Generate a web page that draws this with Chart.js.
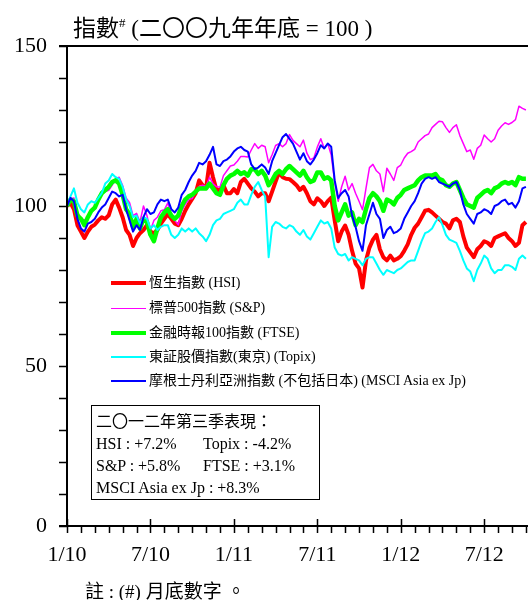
<!DOCTYPE html>
<html><head><meta charset="utf-8">
<script src="https://cdn.jsdelivr.net/npm/chart.js@4.4.0/dist/chart.umd.min.js"></script>
<style>
html,body{margin:0;padding:0;background:#fff;overflow:hidden}
#wrap{position:relative;width:528px;height:600px;font-family:"Liberation Serif","Noto Sans CJK TC",serif;color:#000}
canvas{position:absolute;left:0;top:0}
.t{position:absolute;white-space:nowrap;line-height:1}
.lg{position:absolute;white-space:nowrap;font-size:14px;line-height:16px}
.sw{position:absolute;left:111px;width:35px}
#box{position:absolute;left:91px;top:405px;width:229px;height:95px;border:1px solid #000;box-sizing:border-box}
#box div{position:absolute;white-space:nowrap;font-size:16px;line-height:22px}
</style></head><body>
<div id="wrap">
<canvas id="c" width="528" height="600"></canvas>
<div class="t" style="left:73px;top:17px;font-size:23px">指數<span style="font-size:13px;position:relative;top:-9px">#</span> (二〇〇九年年底 = 100 )</div>
<div id="legend"></div>
<div id="box">
<div style="left:4px;top:5px">二〇一二年第三季表現：</div>
<div style="left:4px;top:27px">HSI : +7.2%</div>
<div style="left:111px;top:27px">Topix : -4.2%</div>
<div style="left:4px;top:49px">S&amp;P : +5.8%</div>
<div style="left:111px;top:49px">FTSE : +3.1%</div>
<div style="left:4px;top:71px">MSCI Asia ex Jp : +8.3%</div>
</div>
<div class="t" style="left:85px;top:582px;font-size:19px">註 : (#) 月底數字 。</div>
</div>
<script>
// x position: months since end-2009 (0 = 1/10), weekly steps
const weeks = [];
for (let i = 0; i <= 132; i++) weeks.push(i / 4);
const xTickLabels = ['1/10', '7/10', '1/11', '7/11', '1/12', '7/12'];
const yTickLabels = [0, 50, 100, 150];
const seriesNames = ['恆生指數 (HSI)', '標普500指數 (S&P)', '金融時報100指數 (FTSE)', '東証股價指數(東京) (Topix)', '摩根士丹利亞洲指數 (不包括日本) (MSCI Asia ex Jp)'];

const hsi = [100,
 101,99,94,92, 90,92,93.5,94.2, 95.5,96.5,96,97.1, 100.5,102,99.5,96.5, 92.5,91,87.5,90, 91.5,92.5,94,92,
 91.5,92.5,94.5,96, 97.5,96,94.5,94, 96,98.5,100.5,102.2, 104,108,106.5,105.6, 113.5,109,105,105, 106.5,104,104,105.3,
 104,107.5,108.5,107, 105.5,104.5,103,104, 104,101.5,104.5,107.6, 110.5,109,108.5,108.4, 107.5,106.5,105,106, 104,101.5,100.5,102.4,
 101.5,100,101.5,102.6, 95.5,89,92,93.9, 91,86,82,80.5, 74.5,83,87,89.5, 91,86.5,84,83, 84.5,83,83.5,84.3,
 86,88,91,93.2, 94.5,96.5,98.5,98.8, 98,97,96,95, 94.5,93,95.5,96, 95,90.5,87,85.5, 84,86.5,87.5,89,
 88.5,87.5,90,90.5, 91,91.5,90,89, 87.5,88.5,94,95];
const sp500 = [100,
 102.3,102.5,98,96.3, 95.5,96.5,99,99, 101.5,103.5,104.5,104.9, 106.5,108.5,109,106.4, 102.5,101,97,97.7, 95,100,97,92.4,
 95.5,96.5,98.5,98.8, 101,97,95.5,94.1, 98.5,100.5,102,102.3, 104.5,106,106.5,106.1, 109,107,106,105.9, 109.5,111,112.5,112.8,
 114,115.5,115.5,115.3, 117.5,119.5,118,119, 118.5,113.5,116,118.9, 119.5,118.5,119.5,122.3, 120.5,119.5,118.5,120.6, 116.5,114.5,115,118.4,
 121,118,119.5,115.9, 107.5,101.5,106,109.3, 105,107,104,101.5, 98.8,105.5,112,113, 111,110,104.5,111.8, 110,108,112,112.8,
 115,116.5,117,117.7, 120,121,122,122.5, 124.5,125.5,126.5,126.3, 124.5,123,124.5,125.4, 122,119.5,117,117.5, 114.6,118,119,122.2,
 121,120,121,123.7, 125,126,125.5,126.1, 127,131.2,130.5,130];
const ftse = [100,
 102,101.5,97,96, 94,96.5,98.5,99.5, 102,104,105,106, 107.5,108,107,103.5, 99,97.5,93.5,96, 93,96,95,91,
 89,93,96.5,98, 99,97,96,97, 100,102,103,103.5, 104.5,105.5,105.5,105.5, 107,105.5,104,103.5, 106.5,108.5,109.5,110,
 111,110,110.5,109.5, 111.5,111.5,110,111, 109.5,106.5,108,110, 111,110,111.5,112.5, 111.5,110.5,109.5,111, 109,107.5,108,110.5,
 110.5,108.5,109,108, 100,95.5,98,100.5, 97,98,94,96, 95,99,102.5,104, 103,101.5,98.5,102, 101.5,100.5,102.5,103.5,
 105,105.5,106,106.5, 108,109,109.5,109.5, 109.5,110,108.5,108, 106.5,106,107,107.5, 105,102.5,100.5,100, 99.5,102.5,103.5,104.5,
 105,104,105.5,106, 107,107.5,107,107.5, 106.5,109,108.5,108.5];
const topix = [100,
 103,105.5,101,99, 98,100.5,101.5,101, 102.5,104,107,108, 110,109,108.5,106, 102,100,96.5,97, 94.5,96.5,96,93,
 94,92.5,93.5,94, 94,91,90,91, 93,92,93,92, 93,91.5,90.5,89, 91,94,95.5,96, 97.5,98,98.5,99,
 101,102,100.5,100.5, 103.5,106,107.5,105, 103,84,93.5,95, 94.5,93.5,93,94, 93.5,92,91,92.5, 90.5,89.5,91.5,93.5,
 95.5,94.5,95,93, 87,85,84.5,85, 83,84,83.5,83, 81.5,83.5,84,84, 82,80,78.5,80, 79.5,79,80,80.5,
 81.5,82.5,83,83, 86,89,91.5,92, 93,95,96.5,94, 91,89.5,89,88.5, 86,83,80.5,79.5, 76.5,80,82,84.5,
 83.5,80.5,79,80, 80,81.5,81.5,81, 80,83.5,84.5,83.5];
const msciAxj = [100,
 102.5,101.5,96,93, 92,94.5,95,96, 98,99.5,100.5,102.5, 104.5,104,103,103.5, 99,95.5,92,94, 92.5,96.5,99,97.5,
 98,100.5,102,101.5, 102,99,98,99.5, 103.5,105,107.5,109.5, 111,113.5,113,114, 116,118.5,113,112.5, 114,114.5,115.5,117,
 118,118.5,117.5,117, 113,111.5,112,113, 112,110,114,116.5, 119,121.5,122.5,121, 119.5,117,114.5,116.5, 114,113,114.5,116.5,
 119,118,119.5,118.5, 108,102.5,104,105, 103,97,93.5,89, 86,94,97.5,101, 97.5,96,90,92.5, 93.5,91.5,92,93,
 96,98,100,101.5, 104,107,108.5,109, 108.5,109,107.5,107, 106.5,106,107,107.5, 105,100.5,97.5,96, 94.5,97.5,98,99,
 98.5,97.5,100,100.5, 101.5,102,100.5,101, 99.5,101.5,105.5,106];

const colors = ['#ff0000', '#ff00ff', '#00ff00', '#00ffff', '#0000ff'];
const widths = [4, 1.5, 4.5, 2, 2];
const swatchHeights = [4, 1, 4, 2, 2];
const allSeries = [hsi, sp500, ftse, topix, msciAxj];

// legend
const legendCenters = [283, 308, 333, 357, 381];
const lg = document.getElementById('legend');
seriesNames.forEach((n, i) => {
  const sw = document.createElement('div');
  sw.className = 'sw';
  sw.style.top = Math.round(legendCenters[i] - swatchHeights[i] / 2) + 'px';
  sw.style.height = swatchHeights[i] + 'px';
  sw.style.background = colors[i];
  lg.appendChild(sw);
  const tx = document.createElement('div');
  tx.className = 'lg';
  tx.style.left = '149px';
  tx.style.top = (legendCenters[i] - 8) + 'px';
  tx.textContent = n;
  lg.appendChild(tx);
});

const axisPlugin = {
  id: 'axes',
  afterDraw(chart) {
    const {ctx, scales: {x, y}} = chart;
    const x0 = x.getPixelForValue(0), y0 = y.getPixelForValue(0), yTop = y.getPixelForValue(150);
    ctx.save();
    ctx.strokeStyle = '#000';
    ctx.lineWidth = 2;
    ctx.beginPath();
    ctx.moveTo(x0, yTop - 1); ctx.lineTo(x0, y0 + 1);
    ctx.moveTo(59, y0); ctx.lineTo(chart.width, y0);
    ctx.moveTo(59, yTop); ctx.lineTo(chart.width, yTop);
    ctx.stroke();
    ctx.lineWidth = 1.5;
    ctx.beginPath();
    for (let v = 0; v <= 150; v += 10) {
      const py = Math.round(y.getPixelForValue(v)) + 0.5;
      ctx.moveTo(59, py); ctx.lineTo(x0, py);
    }
    for (let m = 0; m <= 33; m++) {
      const px = Math.round(x.getPixelForValue(m)) + 0.5;
      ctx.moveTo(px, m % 6 === 0 ? y0 - 7 : y0); ctx.lineTo(px, y0 + 7);
    }
    ctx.stroke();
    ctx.restore();
  }
};

Chart.defaults.font.family = '"Liberation Serif","Noto Sans CJK TC",serif';
Chart.defaults.color = '#000';

new Chart(document.getElementById('c'), {
  type: 'line',
  data: {
    labels: weeks,
    datasets: allSeries.map((s, i) => ({
      label: seriesNames[i],
      data: s.map((v, k) => ({x: weeks[k], y: v})),
      borderColor: colors[i],
      backgroundColor: colors[i],
      borderWidth: widths[i],
      pointRadius: 0,
      pointHoverRadius: 0,
      tension: 0,
      fill: false,
      borderJoinStyle: 'round',
      order: 4 - i
    }))
  },
  options: {
    responsive: false,
    animation: false,
    events: [],
    layout: {autoPadding: false, padding: {top: 46, right: 0, left: 0, bottom: 0}},
    plugins: {legend: {display: false}, tooltip: {enabled: false}, title: {display: false}},
    scales: {
      x: {
        type: 'linear', min: 0, max: 33.15,
        grid: {display: false, drawTicks: false}, border: {display: false},
        ticks: {
          stepSize: 1, autoSkip: false, maxRotation: 0, minRotation: 0, padding: 16,
          font: {size: 22},
          callback: v => (Number.isInteger(v) && v % 6 === 0 && v / 6 < xTickLabels.length) ? xTickLabels[v / 6] : ''
        },
        afterFit: s => { s.height = 74; s.paddingLeft = 0; s.paddingRight = 0; }
      },
      y: {
        min: 0, max: 150,
        grid: {display: false, drawTicks: false}, border: {display: false},
        ticks: {
          stepSize: 10, padding: 20, font: {size: 22},
          callback: v => yTickLabels.includes(v) ? String(v) : ''
        },
        afterFit: s => { s.width = 67; s.paddingTop = 0; s.paddingBottom = 0; }
      }
    }
  },
  plugins: [axisPlugin]
});
</script>
</body></html>
